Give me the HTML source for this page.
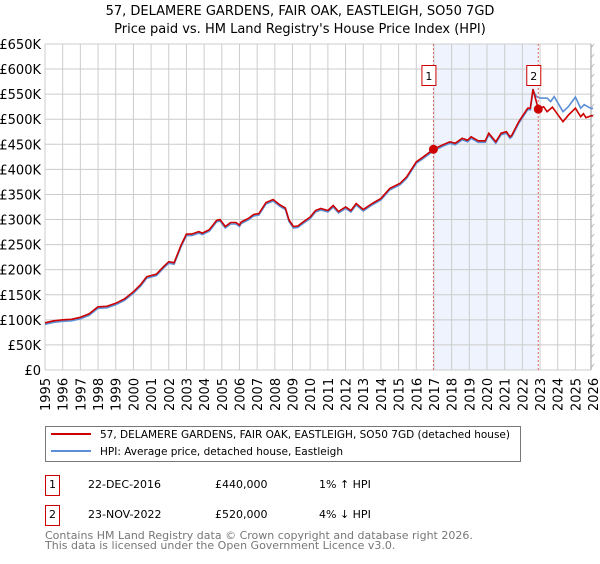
<!DOCTYPE html>
<html><head><meta charset="utf-8"><style>
body{margin:0;background:#fff;width:600px;height:560px;overflow:hidden;font-family:"DejaVu Sans","Liberation Sans",sans-serif;}
</style></head><body>
<svg id="s" width="600" height="560" xmlns="http://www.w3.org/2000/svg" font-family="DejaVu Sans, Liberation Sans, sans-serif">
<text x="300" y="15" font-size="13" text-anchor="middle">57, DELAMERE GARDENS, FAIR OAK, EASTLEIGH, SO50 7GD</text>
<text x="300" y="33" font-size="13" text-anchor="middle">Price paid vs. HM Land Registry's House Price Index (HPI)</text>
<g id="g"></g>
<rect x="45.5" y="426.5" width="475" height="35" fill="#fff" stroke="#777"/>
<line x1="51" y1="434" x2="91" y2="434" stroke="#cc0000" stroke-width="2"/>
<line x1="51" y1="451" x2="91" y2="451" stroke="#5b8fd6" stroke-width="2"/>
<text x="100" y="438" font-size="11" textLength="410" lengthAdjust="spacingAndGlyphs">57, DELAMERE GARDENS, FAIR OAK, EASTLEIGH, SO50 7GD (detached house)</text>
<text x="100" y="455" font-size="11" textLength="243" lengthAdjust="spacingAndGlyphs">HPI: Average price, detached house, Eastleigh</text>
<rect x="45.5" y="475.5" width="14" height="20" fill="#fff" stroke="#cc0000"/>
<text x="52.5" y="488" font-size="11" text-anchor="middle">1</text>
<text x="88" y="488" font-size="11">22-DEC-2016</text>
<text x="215" y="488" font-size="11">£440,000</text>
<text x="319" y="488" font-size="11">1% ↑ HPI</text>
<rect x="45.5" y="505.5" width="14" height="20" fill="#fff" stroke="#cc0000"/>
<text x="52.5" y="518" font-size="11" text-anchor="middle">2</text>
<text x="88" y="518" font-size="11">23-NOV-2022</text>
<text x="215" y="518" font-size="11">£520,000</text>
<text x="319" y="518" font-size="11">4% ↓ HPI</text>
<text x="45" y="539" font-size="11" fill="#777">Contains HM Land Registry data © Crown copyright and database right 2026.</text>
<text x="45" y="549" font-size="11" fill="#777">This data is licensed under the Open Government Licence v3.0.</text>
</svg>
<script>
var L=45,R=591,T=44,B=370,yr=17.68;
function X(y){return L+(y-1995)*yr}
function Y(v){return B-v*0.5016}
var h='';
h+='<rect x="'+X(2016.97)+'" y="'+T+'" width="'+(X(2022.9)-X(2016.97))+'" height="'+(B-T)+'" fill="#eef3fd"/>';
for(var i=0;i<=13;i++){var y=Y(i*50);h+='<line x1="'+L+'" x2="'+R+'" y1="'+y+'" y2="'+y+'" stroke="#ccc"/>';
h+='<text x="41" y="'+(y+5)+'" font-size="13" text-anchor="end">'+(i?'£'+i*50+'K':'£0')+'</text>';}
for(var k=1995;k<=2026;k++){var x=X(k);if(x<=R)h+='<line x1="'+x+'" x2="'+x+'" y1="'+T+'" y2="'+B+'" stroke="#ccc"/>';
h+='<text transform="translate('+(Math.min(x,594)+5)+',411) rotate(-90)" font-size="13">'+k+'</text>';}
h+='<line x1="'+R+'" x2="'+R+'" y1="'+T+'" y2="'+B+'" stroke="#999"/>';
for(var yy=T;yy<B;yy+=10)h+='<line x1="'+R+'" x2="'+(R+3)+'" y1="'+(yy+4)+'" y2="'+yy+'" stroke="#bbb"/>';
var base=[[1995,94],[1995.5,98],[1996,100],[1996.5,101],[1997,105],[1997.5,112],[1998,126],[1998.5,127],[1999,133],[1999.5,142],[2000,156],[2000.4,170],[2000.75,186],[2001.3,191],[2001.7,206],[2002,216],[2002.3,214],[2002.7,249],[2003,271],[2003.3,271],[2003.7,276],[2003.9,273],[2004.3,280],[2004.7,298],[2004.9,300],[2005.2,286],[2005.5,294],[2005.8,294],[2006,289],[2006.1,295],[2006.5,302],[2006.8,310],[2007.1,312],[2007.5,334],[2007.9,340],[2008.3,329],[2008.6,323],[2008.8,299],[2009.05,286],[2009.3,287],[2009.6,295],[2010,305],[2010.3,318],[2010.6,322],[2011,318],[2011.3,328],[2011.6,316],[2012,325],[2012.3,318],[2012.6,332],[2013,320],[2013.5,332],[2014,342],[2014.5,362],[2015.08,372],[2015.45,385],[2016,415],[2016.4,425],[2016.97,440],[2017.5,449],[2017.9,455],[2018.2,452],[2018.6,462],[2018.9,458],[2019.1,465],[2019.5,457],[2019.9,457],[2020.1,472],[2020.5,455],[2020.8,472],[2021.1,475],[2021.3,465],[2021.4,468],[2021.8,495],[2022.3,522],[2022.45,522],[2022.6,560],[2022.9,520]];
var hpiT=[[2023.0,545],[2023.4,545],[2023.6,538],[2023.8,548],[2024.3,518],[2024.6,528],[2025.0,547],[2025.3,525],[2025.5,532],[2025.7,528],[2025.9,524],[2026,525]];
var redT=[[2023.2,525],[2023.4,515],[2023.7,524],[2024.3,495],[2024.6,508],[2025.0,522],[2025.3,505],[2025.45,511],[2025.6,503],[2025.9,507],[2026,507]];
function pts(a,dy){return a.map(function(p){return X(p[0]).toFixed(1)+','+(Y(p[1])+dy).toFixed(1)}).join(' ')}
var hb=base.slice(0,-1).concat([[2022.8,548]]).concat(hpiT);
h+='<polyline points="'+pts(hb,1.5)+'" fill="none" stroke="#5b8fd6" stroke-width="1.6"/>';
h+='<polyline points="'+pts(base.concat(redT),0)+'" fill="none" stroke="#cc0000" stroke-width="1.6"/>';
[[2016.97,440,1],[2022.9,520,2]].forEach(function(p){var x=X(p[0]);
h+='<line x1="'+x+'" x2="'+x+'" y1="'+T+'" y2="'+B+'" stroke="#e06666" stroke-dasharray="2,2"/>';
h+='<circle cx="'+x+'" cy="'+Y(p[1])+'" r="4.5" fill="#cc0000"/>';
h+='<rect x="'+(x-11.5)+'" y="65.5" width="14" height="20" fill="#fff" stroke="#cc0000"/>';
h+='<text x="'+(x-4.5)+'" y="80" font-size="11" text-anchor="middle">'+p[2]+'</text>';});
document.getElementById('g').innerHTML=h;
</script>
</body></html>
